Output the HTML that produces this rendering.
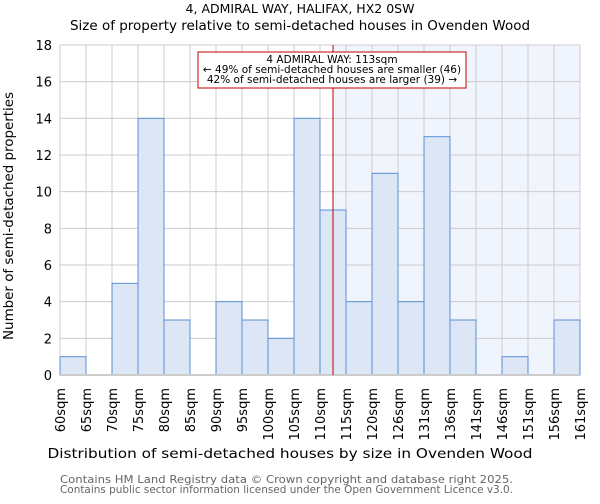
<!DOCTYPE html>
<html><head><meta charset="utf-8"><style>
body{margin:0;background:#fff;font-family:"DejaVu Sans","Liberation Sans",sans-serif}
svg text{font-family:"DejaVu Sans","Liberation Sans",sans-serif}
</style></head><body>
<svg id="c" width="600" height="500">
<text x="300" y="13" text-anchor="middle" font-size="12.5">4, ADMIRAL WAY, HALIFAX, HX2 0SW</text>
<text x="300" y="30" text-anchor="middle" font-size="13" textLength="460" lengthAdjust="spacingAndGlyphs">Size of property relative to semi-detached houses in Ovenden Wood</text>
<g id="plot"></g>
<text x="290" y="458" text-anchor="middle" font-size="13.5" textLength="485" lengthAdjust="spacingAndGlyphs">Distribution of semi-detached houses by size in Ovenden Wood</text>
<text transform="translate(13,216) rotate(-90)" text-anchor="middle" font-size="13" textLength="248" lengthAdjust="spacingAndGlyphs">Number of semi-detached properties</text>
<text x="60" y="483" font-size="11" fill="#666" textLength="453" lengthAdjust="spacingAndGlyphs">Contains HM Land Registry data © Crown copyright and database right 2025.</text>
<text x="60" y="493" font-size="11" fill="#666" textLength="453" lengthAdjust="spacingAndGlyphs">Contains public sector information licensed under the Open Government Licence v3.0.</text>
</svg>
<script>
const edgeLabels=["60sqm","65sqm","70sqm","75sqm","80sqm","85sqm","90sqm","95sqm","100sqm","105sqm","110sqm","115sqm","120sqm","126sqm","131sqm","136sqm","141sqm","146sqm","151sqm","156sqm","161sqm"];
const counts=[1,0,5,14,3,0,4,3,2,14,9,4,11,4,13,3,0,1,0,3];
const yTicks=[0,2,4,6,8,10,12,14,16,18];
const propertyBin=10.5;
const annotationLines=["4 ADMIRAL WAY: 113sqm","← 49% of semi-detached houses are smaller (46)","42% of semi-detached houses are larger (39) →"];
const NS="http://www.w3.org/2000/svg";
const L=60,R=580,T=45,B=375,yMax=18;
const bw=(R-L)/counts.length;
const xs=i=>L+i*bw, ys=v=>B-(B-T)*v/yMax;
const g=document.getElementById('plot');
function mk(t,a){const e=document.createElementNS(NS,t);for(const k in a)e.setAttribute(k,a[k]);g.appendChild(e);return e;}
const px=xs(propertyBin);
let e=mk('rect',{x:px,y:T,width:R-px,height:B-T,fill:'#f0f4fc'});


yTicks.forEach(v=>{let l=mk('line',{x1:L,x2:R,y1:ys(v),y2:ys(v),stroke:'#ccc'});


let t=mk('text',{x:L-8,y:ys(v)+5,'text-anchor':'end','font-size':13});t.textContent=v;

});
edgeLabels.forEach((s,i)=>{let l=mk('line',{x1:xs(i),x2:xs(i),y1:T,y2:B,stroke:'#ccc'});


let t=mk('text',{transform:`translate(${xs(i)+5},388) rotate(-90)`,'text-anchor':'end','font-size':13});t.textContent=s;

});
counts.forEach((v,i)=>{if(!v)return;let r=mk('rect',{x:xs(i),y:ys(v),width:bw,height:B-ys(v),fill:'#dce6f4',stroke:'#5b8fd6','stroke-width':1});

});
e=mk('line',{x1:L,x2:R,y1:B,y2:B,stroke:'#ccc','stroke-width':2});


e=mk('line',{x1:px,x2:px,y1:T,y2:B,stroke:'#c00000','stroke-width':1});


e=mk('rect',{x:198,y:52,width:268,height:36,fill:'#fff',stroke:'#c00000'});


annotationLines.forEach((s,i)=>{let t=mk('text',{x:332,y:63+i*10,'text-anchor':'middle','font-size':10.5});t.textContent=s;

});
</script>
</body></html>
